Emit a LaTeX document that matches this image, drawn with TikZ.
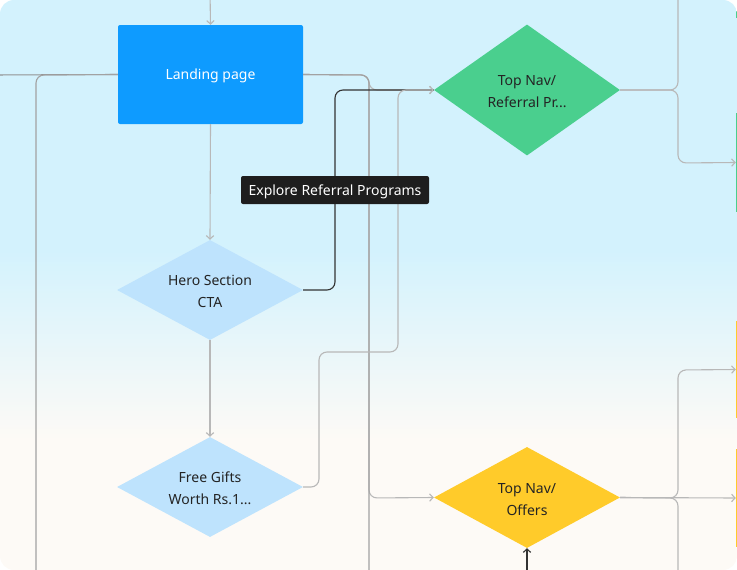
\documentclass[tikz,border=0pt]{standalone}
\usepackage{fontspec}
\setmainfont{Noto Sans}
\usetikzlibrary{shapes.geometric,arrows.meta}
\definecolor{bgblue}{HTML}{D3F2FD}
\definecolor{bgcream}{HTML}{FDFAF6}
\definecolor{lpblue}{HTML}{0E9BFF}
\definecolor{lightdia}{HTML}{BEE3FD}
\definecolor{greendia}{HTML}{4ACF8E}
\definecolor{yellowdia}{HTML}{FFCB2A}
\definecolor{conn}{HTML}{B8B8B8}
\definecolor{trunk}{HTML}{A2A2A2}
\definecolor{darkconn}{HTML}{333333}
\definecolor{labelbg}{HTML}{1E1E1E}
\definecolor{txt}{HTML}{242424}
\tikzset{
  basefont/.style={font=\fontsize{14}{22}\selectfont},
  rectnode/.style={basefont, rectangle, rounded corners=2pt, fill=lpblue, text=white,
    minimum width=185pt, minimum height=99pt, inner sep=0pt, text height=13.5pt, text depth=3pt},
  dia/.style={basefont, diamond, aspect=1.86, align=center, text=txt, inner sep=0pt,
    minimum width=186pt, minimum height=100pt, text height=38pt, text depth=3pt},
  tag/.style={basefont, rectangle, rounded corners=2pt, fill=labelbg, text=white,
    minimum width=188pt, minimum height=28pt, inner sep=0pt, text height=13.5pt, text depth=3pt},
  offgreen/.style={rectangle, fill=greendia, minimum width=108pt, inner sep=0pt},
  offyellow/.style={rectangle, fill=yellowdia, minimum width=108pt, inner sep=0pt},
  cline/.style={draw=conn, line width=1.1pt, rounded corners=8pt},
  tline/.style={draw=trunk, line width=1.1pt, rounded corners=8pt},
  dline/.style={draw=darkconn, line width=1.1pt, rounded corners=8pt},
  tip/.style={-{Straight Barb[length=3.5pt,width=7.5pt]}}
}
\begin{document}
\begin{tikzpicture}[x=1pt,y=-1pt]
\useasboundingbox (0,0) rectangle (737,570);
\begin{scope}
\clip[rounded corners=14pt] (0,0) rectangle (737,570);
\begin{scope}[y=1pt]
\fill[bgblue] (0,-251) rectangle (737,0);
\fill[bgcream] (0,-570) rectangle (737,-439);
\shade[top color=bgblue,bottom color=bgcream] (0,-440) rectangle (737,-250);
\end{scope}

% nodes
\node[rectnode] (lp) at (210.5,74.5) {Landing page};
\node[dia, fill=lightdia] (hero) at (210,290) {Hero Section\\CTA};
\node[dia, fill=lightdia] (gift) at (210,487) {Free Gifts\\Worth Rs.1...};
\node[dia, fill=greendia, minimum height=131pt] (tnr) at (527,90) {Top Nav/\\Referral Pr...};
\node[dia, fill=yellowdia, minimum height=101pt] (tno) at (527,497.5) {Top Nav/\\Offers};
\node[offgreen, minimum height=95pt] (g0) at (790,-30) {};
\node[offgreen, minimum height=99pt] (g1) at (790,162.5) {};
\node[offyellow, minimum height=97pt] (y1) at (790,369.5) {};
\node[offyellow, minimum height=98pt] (y2) at (790,498) {};

\coordinate (topin) at (210,-10);
\coordinate (leftin) at (-10,75);
\coordinate (botin) at (527,580);

% connectors
\draw[cline,tip] (topin) -- (lp.north);
\draw[cline,tip] (lp.south) -- (hero.north);
\draw[cline,tip] (hero.south) -- (gift.north);
\draw[cline,tip] (lp.east) -- (369,75) -- (369,90) -- (tnr.west);
\draw[cline,tip] (lp.east) -- (369,75) -- (369,498) -- (tno.west);
\draw[tline] (lp.east) -- (369,75) -- (369,590);
\draw[dline] (hero.east) -- (335,290) -- (335,90) -- (tnr.west);
\draw[cline,tip] (gift.east) -- (319,487) -- (319,352) -- (398,352) -- (398,90) -- (tnr.west);
\draw[draw=trunk!90!black, line width=1.1pt] (leftin) -- (lp.west);
\draw[tline] (lp.west) -- (36,75) -- (36,590);
\draw[cline] (tnr.east) -- (678,90) -- (678,-20);
\draw[cline,tip] (tnr.east) -- (678,90) -- (678,163) -- (g1.west);
\draw[cline,tip] (tno.east) -- (678,498) -- (678,370) -- (y1.west);
\draw[cline,tip] (tno.east) -- (y2.west);
\draw[cline] (tno.east) -- (678,498) -- (678,590);
\draw[dline,tip] (botin) -- (tno.south);

\node[tag] (lbl) at (335,190) {Explore Referral Programs};
\end{scope}
\end{tikzpicture}
\end{document}
